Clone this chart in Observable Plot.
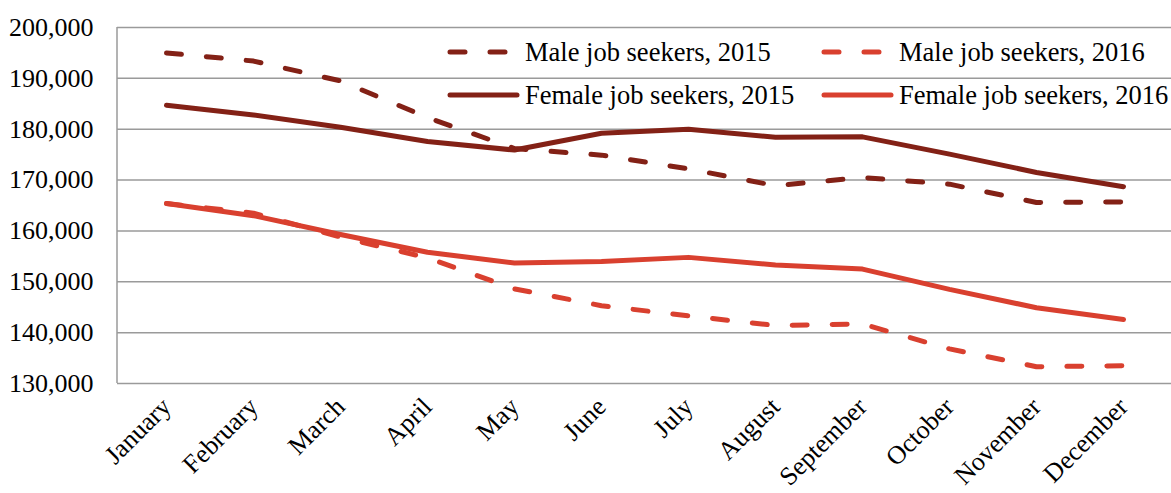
<!DOCTYPE html>
<html>
<head>
<meta charset="utf-8">
<script src="https://cdn.jsdelivr.net/npm/d3@7"></script>
<script src="https://cdn.jsdelivr.net/npm/@observablehq/plot@0.6"></script>
<style>
  html, body { margin: 0; padding: 0; background: #fff; }
  #wrap { position: relative; width: 1171px; height: 493px; font-family: "Liberation Serif", "Times New Roman", serif; }
  .leg { position: absolute; height: 30px; line-height: 30px; font-size: 26.5px; color: #000; white-space: nowrap; }
  .sample { position: absolute; width: 76px; height: 12px; }
</style>
</head>
<body>
<div id="wrap"></div>
<script>
const months = ["January","February","March","April","May","June","July","August","September","October","November","December"];
const male2015   = [195000, 193400, 189500, 182300, 176200, 174900, 172200, 168900, 170500, 169200, 165600, 165700];
const female2015 = [184700, 182800, 180400, 177600, 175900, 179200, 180000, 178400, 178500, 175100, 171500, 168700];
const male2016   = [165400, 163500, 158800, 154700, 148600, 145300, 143300, 141400, 141700, 136800, 133300, 133500];
const female2016 = [165400, 163000, 159300, 155800, 153700, 154000, 154800, 153300, 152500, 148500, 144900, 142600];
const yTicks = [130000, 140000, 150000, 160000, 170000, 180000, 190000, 200000];

const seriesNames = ["Male job seekers, 2015", "Male job seekers, 2016", "Female job seekers, 2015", "Female job seekers, 2016"];
const seriesValues = [male2015, male2016, female2015, female2016];
const seriesColors = ["#832116", "#d9402f", "#832116", "#d9402f"];
const seriesDashed = [true, true, false, false];

function toRows(values) { return months.map((m, i) => ({month: m, value: values[i]})); }

const leftLine = (index, scales, values, dimensions) => {
  const {marginLeft, marginTop, height, marginBottom} = dimensions;
  const g = d3.create("svg:line")
    .attr("x1", marginLeft).attr("x2", marginLeft)
    .attr("y1", marginTop).attr("y2", height - marginBottom)
    .attr("stroke", "#9a9a9a").attr("stroke-width", 1.5);
  return g.node();
};

const lineMarks = [0, 2, 1, 3].map(i => Plot.line(toRows(seriesValues[i]), {
  x: "month", y: "value",
  stroke: seriesColors[i], strokeWidth: 5,
  strokeLinecap: "round", strokeLinejoin: "round",
  strokeDasharray: seriesDashed[i] ? "15,25" : null
}));

const chart = Plot.plot({
  width: 1171, height: 493,
  marginLeft: 117, marginRight: 0, marginTop: 27, marginBottom: 110,
  style: {fontFamily: "'Liberation Serif', 'Times New Roman', serif", fontSize: "26px", color: "#000", background: "#fff"},
  x: {type: "point", domain: months, padding: 0.5, label: null},
  y: {domain: [130000, 200000], label: null},
  marks: [
    Plot.gridY(yTicks, {stroke: "#9a9a9a", strokeOpacity: 1, strokeWidth: 1.5}),
    leftLine,
    Plot.axisY({ticks: yTicks, tickSize: 0, tickPadding: 24, tickFormat: d3.format(","), label: null, fontSize: 26}),
    Plot.axisX({tickSize: 0, tickPadding: 19, tickRotate: -45, label: null, fontSize: 26}),
    ...lineMarks
  ]
});

const wrap = document.getElementById("wrap");
wrap.appendChild(chart);

// Legend (two columns, two rows inside the plot area)
const legendCols = [445, 819];
const legendRows = [52, 95];
const legendOrder = [0, 1, 2, 3]; // row-major: Male 2015, Male 2016, Female 2015, Female 2016
legendOrder.forEach((s, k) => {
  const col = k % 2, row = Math.floor(k / 2);
  const cx = legendCols[col], cy = legendRows[row];
  const svg = d3.create("svg").attr("class", "sample")
    .style("left", cx + "px").style("top", (cy - 6) + "px")
    .attr("width", 76).attr("height", 12);
  svg.append("line").attr("x1", 5).attr("x2", 72).attr("y1", 6).attr("y2", 6)
    .attr("stroke", seriesColors[s]).attr("stroke-width", 5)
    .attr("stroke-linecap", "round")
    .attr("stroke-dasharray", seriesDashed[s] ? "15,25" : null);
  wrap.appendChild(svg.node());
  const t = document.createElement("div");
  t.className = "leg";
  t.style.left = (cx + 80) + "px";
  t.style.top = (cy - 15) + "px";
  t.textContent = seriesNames[s];
  wrap.appendChild(t);
});
</script>
</body>
</html>
